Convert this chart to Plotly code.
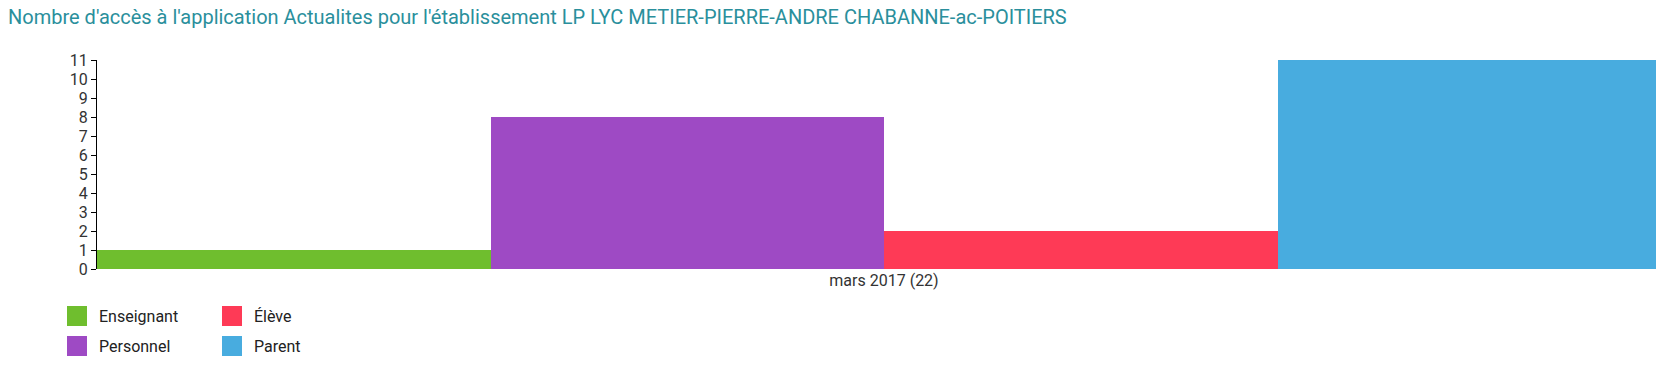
import plotly.graph_objects as go

categories = ["mars 2017 (22)"]
series_names = ["Enseignant", "Personnel", "Élève", "Parent"]
series_values = [[1], [8], [2], [11]]
series_colors = ["#6fbe2e", "#9e4ac4", "#fe3a56", "#48acdf"]
y_ticks = list(range(0, 12))
title_text = "Nombre d'accès à l'application Actualites pour l'établissement LP LYC METIER-PIERRE-ANDRE CHABANNE-ac-POITIERS"

W, H = 1656, 374
L, R, T, B = 97, 0, 60, 105
pw, ph = W - L - R, H - T - B

fig = go.Figure()
for name, vals, col in zip(series_names, series_values, series_colors):
    fig.add_trace(go.Bar(x=categories, y=vals, name=name, marker=dict(color=col, line=dict(width=0)),
                         showlegend=False))

unit = 1574.0
x_range = [-0.5, -0.5 + pw / unit]

fig.update_layout(
    width=W, height=H,
    margin=dict(l=L, r=R, t=T, b=B, pad=0),
    barmode="group", bargap=0, bargroupgap=0,
    plot_bgcolor="white", paper_bgcolor="white",
    font=dict(family="Roboto", size=16, color="#333333"),
    title=dict(text=title_text, x=8 / W, xanchor="left", y=1 - 17 / H, yanchor="middle",
               font=dict(family="Roboto", size=20, color="#2a8f9c")),
    xaxis=dict(type="category", range=x_range, showgrid=False, zeroline=False, showline=False,
               ticks="", tickfont=dict(size=16, color="#333333")),
    yaxis=dict(range=[0, 11], tickvals=y_ticks, showgrid=False, zeroline=False, showline=True,
               linecolor="black", linewidth=1, ticks="outside", ticklen=5, tickcolor="black",
               tickfont=dict(size=16, color="#333333")),
)

legend_items = [("Enseignant", series_colors[0], 67, 306), ("Élève", series_colors[2], 222, 306),
                ("Personnel", series_colors[1], 67, 336), ("Parent", series_colors[3], 222, 336)]
def px(x):
    return (x - L) / pw
def py(y):
    return (H - B - y) / ph
for label, col, x0, y0 in legend_items:
    fig.add_shape(type="rect", xref="paper", yref="paper", x0=px(x0), x1=px(x0 + 20),
                  y0=py(y0 + 20), y1=py(y0), fillcolor=col, line=dict(width=0))
    fig.add_annotation(xref="paper", yref="paper", x=px(x0 + 30), y=py(y0 + 10), text=label,
                       showarrow=False, xanchor="left", yanchor="middle",
                       font=dict(family="Roboto", size=16, color="#222222"))

fig.write_html("out.html", config={"displayModeBar": False},
               post_script="document.body.style.margin='0';document.body.style.overflow='hidden';")
